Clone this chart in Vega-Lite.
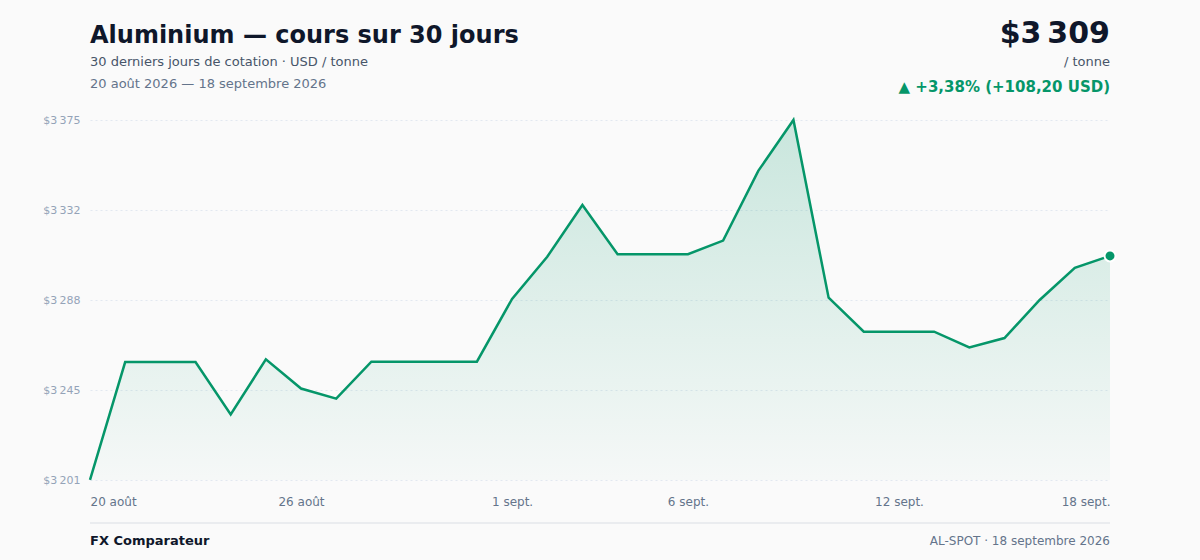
{
  "$schema": "https://vega.github.io/schema/vega-lite/v6.json",
  "width": 1020,
  "height": 360,
  "autosize": {"type": "none"},
  "padding": {"left": 90, "top": 120, "right": 90, "bottom": 80},
  "background": "#fafafa",
  "config": {
    "view": {"stroke": null},
    "font": "DejaVu Sans",
    "locale": {
      "number": {"decimal": ",", "thousands": "\u202f", "grouping": [3], "currency": ["$", ""]},
      "time": {
        "dateTime": "%A %e %B %Y à %X",
        "date": "%d/%m/%Y",
        "time": "%H:%M:%S",
        "periods": ["AM", "PM"],
        "days": ["dimanche", "lundi", "mardi", "mercredi", "jeudi", "vendredi", "samedi"],
        "shortDays": ["dim.", "lun.", "mar.", "mer.", "jeu.", "ven.", "sam."],
        "months": ["janvier", "février", "mars", "avril", "mai", "juin", "juillet", "août", "septembre", "octobre", "novembre", "décembre"],
        "shortMonths": ["janv.", "févr.", "mars", "avr.", "mai", "juin", "juil.", "août", "sept.", "oct.", "nov.", "déc."]
      }
    }
  },
  "datasets": {
    "prices": [
      {"date": "2026/08/20", "price": 3201.1},
      {"date": "2026/08/21", "price": 3258.0},
      {"date": "2026/08/22", "price": 3258.0},
      {"date": "2026/08/23", "price": 3258.0},
      {"date": "2026/08/24", "price": 3232.7},
      {"date": "2026/08/25", "price": 3259.3},
      {"date": "2026/08/26", "price": 3245.2},
      {"date": "2026/08/27", "price": 3240.3},
      {"date": "2026/08/28", "price": 3258.2},
      {"date": "2026/08/29", "price": 3258.2},
      {"date": "2026/08/30", "price": 3258.2},
      {"date": "2026/08/31", "price": 3258.2},
      {"date": "2026/09/01", "price": 3288.5},
      {"date": "2026/09/02", "price": 3308.9},
      {"date": "2026/09/03", "price": 3333.9},
      {"date": "2026/09/04", "price": 3310.1},
      {"date": "2026/09/05", "price": 3310.1},
      {"date": "2026/09/06", "price": 3310.1},
      {"date": "2026/09/07", "price": 3316.7},
      {"date": "2026/09/08", "price": 3350.4},
      {"date": "2026/09/09", "price": 3375.0},
      {"date": "2026/09/10", "price": 3289.1},
      {"date": "2026/09/11", "price": 3272.7},
      {"date": "2026/09/12", "price": 3272.7},
      {"date": "2026/09/13", "price": 3272.7},
      {"date": "2026/09/14", "price": 3265.1},
      {"date": "2026/09/15", "price": 3269.6},
      {"date": "2026/09/16", "price": 3288.0},
      {"date": "2026/09/17", "price": 3303.5},
      {"date": "2026/09/18", "price": 3309.3}
    ]
  },
  "layer": [
    {
      "data": {"name": "prices"},
      "mark": {
        "type": "area",
        "line": false,
        "color": {
          "gradient": "linear",
          "x1": 0, "y1": 0, "x2": 0, "y2": 1,
          "stops": [
            {"offset": 0, "color": "rgba(5,150,105,0.20)"},
            {"offset": 1, "color": "rgba(5,150,105,0.02)"}
          ]
        }
      },
      "encoding": {
        "x": {
          "field": "date",
          "type": "temporal",
          "scale": {"nice": false},
          "axis": {
            "title": null,
            "format": "%-d %b",
            "values": [
              {"year": 2026, "month": 8, "date": 20},
              {"year": 2026, "month": 8, "date": 26},
              {"year": 2026, "month": 9, "date": 1},
              {"year": 2026, "month": 9, "date": 6},
              {"year": 2026, "month": 9, "date": 12},
              {"year": 2026, "month": 9, "date": 18}
            ],
            "labelFlush": true,
            "labelFont": "DejaVu Sans",
            "labelFontSize": 12,
            "labelColor": "#64748b",
            "labelPadding": 16,
            "ticks": false,
            "domain": false,
            "grid": false
          }
        },
        "y": {
          "field": "price",
          "type": "quantitative",
          "scale": {"domain": [3201, 3375], "nice": false, "zero": false},
          "axis": {
            "title": null,
            "values": [3201, 3244.5, 3288, 3331.5, 3375],
            "format": "$,.0f",
            "labelFont": "DejaVu Sans",
            "labelFontSize": 11,
            "labelColor": "#94a3b8",
            "labelPadding": 10,
            "ticks": false,
            "domain": false,
            "grid": true,
            "gridColor": "#e2e8f0",
            "gridDash": [2, 3],
            "gridWidth": 1
          }
        },
        "y2": {"datum": 3201}
      }
    },
    {
      "data": {"name": "prices"},
      "mark": {"type": "line", "color": "#059669", "strokeWidth": 2.5, "strokeJoin": "miter"},
      "encoding": {
        "x": {"field": "date", "type": "temporal"},
        "y": {"field": "price", "type": "quantitative"}
      }
    },
    {
      "data": {"name": "prices"},
      "transform": [{"filter": "datum.price === 3309.3"}],
      "mark": {"type": "circle", "color": "#059669", "size": 120, "opacity": 1, "stroke": "#ffffff", "strokeWidth": 2},
      "encoding": {
        "x": {"field": "date", "type": "temporal"},
        "y": {"field": "price", "type": "quantitative"}
      }
    },
    {
      "data": {"values": [{"label": "Aluminium — cours sur 30 jours"}]},
      "mark": {"type": "text", "align": "left", "baseline": "alphabetic", "font": "DejaVu Sans", "fontSize": 24, "fontWeight": "bold", "color": "#0f172a"},
      "encoding": {"x": {"value": 0}, "y": {"value": -77}, "text": {"field": "label"}}
    },
    {
      "data": {"values": [{"label": "30 derniers jours de cotation · USD / tonne"}]},
      "mark": {"type": "text", "align": "left", "baseline": "alphabetic", "font": "DejaVu Sans", "fontSize": 13, "color": "#475569"},
      "encoding": {"x": {"value": 0}, "y": {"value": -54}, "text": {"field": "label"}}
    },
    {
      "data": {"values": [{"label": "20 août 2026 — 18 septembre 2026"}]},
      "mark": {"type": "text", "align": "left", "baseline": "alphabetic", "font": "DejaVu Sans", "fontSize": 13, "color": "#64748b"},
      "encoding": {"x": {"value": 0}, "y": {"value": -32}, "text": {"field": "label"}}
    },
    {
      "data": {"values": [{"label": "$3\u202f309"}]},
      "mark": {"type": "text", "align": "right", "baseline": "alphabetic", "font": "DejaVu Sans", "fontSize": 30, "fontWeight": "bold", "color": "#0f172a"},
      "encoding": {"x": {"value": 1020}, "y": {"value": -77}, "text": {"field": "label"}}
    },
    {
      "data": {"values": [{"label": "/ tonne"}]},
      "mark": {"type": "text", "align": "right", "baseline": "alphabetic", "font": "DejaVu Sans", "fontSize": 13, "color": "#475569"},
      "encoding": {"x": {"value": 1020}, "y": {"value": -54}, "text": {"field": "label"}}
    },
    {
      "data": {"values": [{"label": "▲ +3,38% (+108,20 USD)"}]},
      "mark": {"type": "text", "align": "right", "baseline": "alphabetic", "font": "DejaVu Sans", "fontSize": 15, "fontWeight": "bold", "color": "#059669"},
      "encoding": {"x": {"value": 1020}, "y": {"value": -28}, "text": {"field": "label"}}
    },
    {
      "data": {"values": [{"a": 1}]},
      "mark": {"type": "rule", "color": "#e5e7eb", "strokeWidth": 1.5},
      "encoding": {"x": {"value": 0}, "x2": {"value": 1020}, "y": {"value": 403}}
    },
    {
      "data": {"values": [{"label": "FX Comparateur"}]},
      "mark": {"type": "text", "align": "left", "baseline": "middle", "font": "DejaVu Sans", "fontSize": 13, "fontWeight": "bold", "color": "#0f172a"},
      "encoding": {"x": {"value": 0}, "y": {"value": 421}, "text": {"field": "label"}}
    },
    {
      "data": {"values": [{"label": "AL-SPOT · 18 septembre 2026"}]},
      "mark": {"type": "text", "align": "right", "baseline": "middle", "font": "DejaVu Sans", "fontSize": 12, "color": "#64748b"},
      "encoding": {"x": {"value": 1020}, "y": {"value": 421}, "text": {"field": "label"}}
    }
  ]
}
